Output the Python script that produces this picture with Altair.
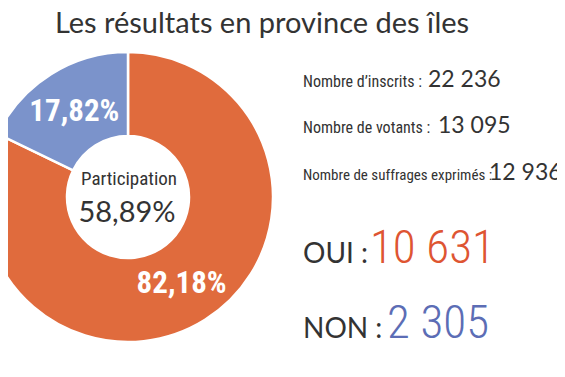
import altair as alt
import pandas as pd

# ---- data ----
titre = "Les résultats en province des îles"
categories = ["OUI", "NON"]
pourcentages = [82.18, 17.82]
voix = ["10 631", "2 305"]
couleurs = ["#E06B3D", "#7B93CB"]
couleurs_voix = ["#DE5532", "#5C6DB5"]
stat_labels = ["Nombre d’inscrits :", "Nombre de votants :", "Nombre de suffrages exprimés :"]
stat_values = ["22 236", "13 095", "12 936"]
participation_label = "Participation"
participation_value = "58,89%"

NARROW = "Roboto Condensed"
SANS = "Lato"
DARK = "#333333"

df = pd.DataFrame({
    "cat": categories,
    "pct": pourcentages,
    "ordre": list(range(len(categories))),
    "label": [f"{v:.2f}".replace(".", ",") + "%" for v in pourcentages],
})

CX, CY = 120, 189

base = alt.Chart(df).encode(
    theta=alt.Theta("pct:Q", stack=True),
    order=alt.Order("ordre:Q"),
)

arc = base.mark_arc(innerRadius=61, outerRadius=145, stroke="white", strokeWidth=2.5).encode(
    color=alt.Color("cat:N", scale=alt.Scale(domain=categories, range=couleurs), legend=None),
    x=alt.value(CX), y=alt.value(CY),
)

pct_text = base.mark_text(radius=101, font=NARROW, fontWeight="bold", fontSize=31,
                          color="white", baseline="middle", align="center", dy=1).encode(
    text="label:N", x=alt.value(CX), y=alt.value(CY),
)


def txt(s, x, y, size, color=DARK, font=SANS, weight="normal", align="left"):
    return alt.Chart(pd.DataFrame({"t": [s]})).mark_text(
        font=font, fontSize=size, color=color, fontWeight=weight,
        align=align, baseline="alphabetic",
    ).encode(text="t:N", x=alt.value(x), y=alt.value(y))


layers = [arc, pct_text]
layers.append(txt(titre, 254, 25, 29, align="center"))
layers.append(txt(participation_label, CX + 1, 177, 19, font=NARROW, align="center"))
layers.append(txt(participation_value, CX - 1, 214, 29, align="center"))

stat_y = [79, 125, 172]
stat_num_x = [420, 430, 481]
stat_size = [16, 16, 15]
for lab, val, y, nx, fs in zip(stat_labels, stat_values, stat_y, stat_num_x, stat_size):
    layers.append(txt(lab, 295, y, fs, font=NARROW))
    layers.append(txt(val, nx, y, 23))

vote_y = [255, 330]
vote_num_x = [362, 379]
for cat, v, c, y, nx in zip(categories, voix, couleurs_voix, vote_y, vote_num_x):
    layers.append(txt(cat + " :", 295, y, 28))
    layers.append(txt(v, nx, y, 47, color=c, font=NARROW, weight=300))

chart = alt.layer(*layers).properties(
    width=549, height=361, padding=0,
    autosize=alt.AutoSizeParams(type="none"),
).configure_view(stroke=None)

chart.save("out.html", embed_options={"renderer": "svg", "actions": False})
